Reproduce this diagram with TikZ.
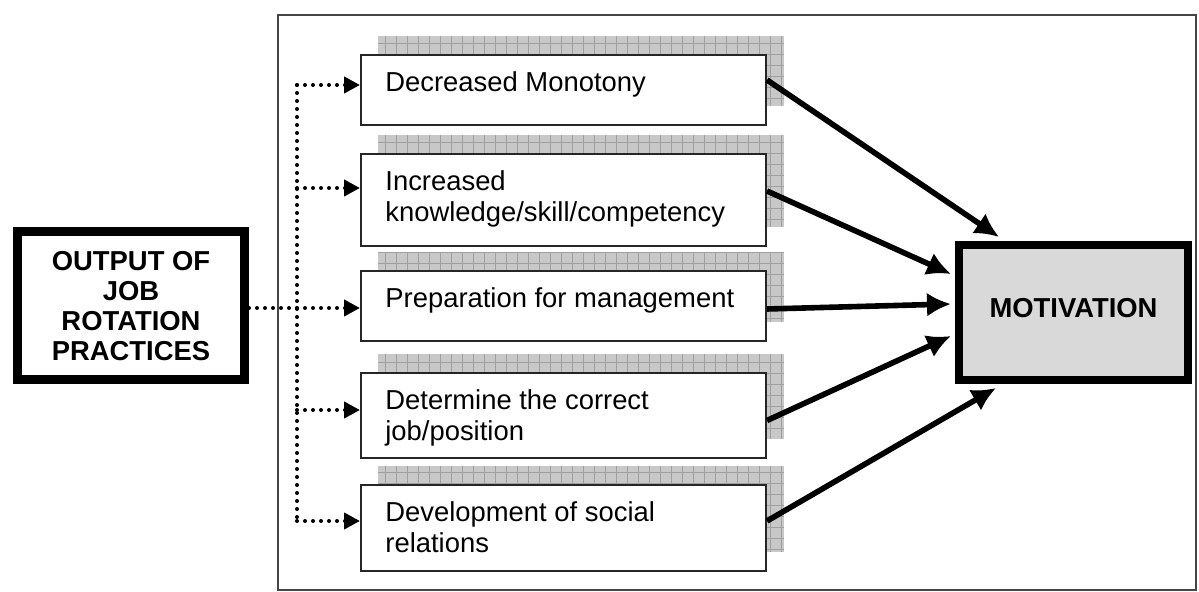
\documentclass[tikz,border=0pt]{standalone}
\usepackage{fontspec}
\setmainfont{Liberation Sans}
\usetikzlibrary{arrows.meta}

\definecolor{shadowgray}{RGB}{200,200,200}
\definecolor{gridgray}{RGB}{160,160,160}
\definecolor{motgray}{RGB}{217,217,217}
\definecolor{framegray}{RGB}{70,70,70}

\tikzset{
  item/.style={draw=black!85, line width=1pt, fill=white, minimum width=202.5pt, inner sep=0pt, anchor=north west},
  itemtext/.style={anchor=north west, inner sep=0pt, align=left, font=\fontsize{13.7pt}{15.5pt}\selectfont},
  bigbox/.style={draw, align=center, inner sep=0pt, font=\bfseries\fontsize{13.7pt}{15pt}\selectfont},
  dotline/.style={line width=2pt, line cap=round, dash pattern=on 0pt off 4pt},
  dotarrow/.style={dotline, -{Triangle[length=8pt,width=8pt]}},
  fatarrow/.style={line width=2.8pt, -{Latex[length=12pt,width=12pt]}},
}

\begin{document}
\begin{tikzpicture}[x=0.5pt, y=-0.5pt]
	\useasboundingbox (0,0) rectangle (1199,592);
	% outer frame
	\draw[framegray, line width=0.8pt] (278,15) rectangle (1196,590);

	% the five effects, each with a gridded shadow behind it
	\foreach \n/\top/\h in {1/54/70, 2/153/92, 3/270/70, 4/372/85, 5/484/86}{
		\fill[shadowgray] (378,\top-18) rectangle (784,\top+\h-18);
		\draw[gridgray, line width=0.5pt, step=5.5pt] (378,\top-18) grid (784,\top+\h-18);
		\node[item, minimum height=\h*0.5pt] (b\n) at (360,\top) {};
	}
	\node[itemtext] (t1txt) at ([shift={(25,17)}]b1.north west) {Decreased Monotony};
	\node[itemtext] (t2txt) at ([shift={(25,17)}]b2.north west) {Increased\\knowledge/skill/competency};
	\node[itemtext] (t3txt) at ([shift={(25,17)}]b3.north west) {Preparation for management};
	\node[itemtext] (t4txt) at ([shift={(25,17)}]b4.north west) {Determine the correct\\job/position};
	\node[itemtext] (t5txt) at ([shift={(25,17)}]b5.north west) {Development of social\\relations};

	\node[bigbox, line width=4.5pt, minimum width=113.5pt, minimum height=74pt] (output) at (131,306)
		{OUTPUT OF\\JOB\\ROTATION\\PRACTICES};
	\node[bigbox, fill=motgray, line width=4pt, minimum width=114.5pt, minimum height=67.5pt, text depth=5pt] (motivation) at (1073.5,312.5)
		{MOTIVATION};

	% dotted distribution lines
	\coordinate (d1) at (297,85);
	\coordinate (d2) at (297,188);
	\coordinate (d3) at (297,308);
	\coordinate (d4) at (297,410);
	\coordinate (d5) at (297,521);
	\draw[dotline] (d1) -- (d5);
	\draw[dotline] (output.east |- d3) -- (d3);
	\foreach \n in {1,...,5}
		\draw[dotarrow] (d\n) -- (d\n -| b\n.west);

	% effects feeding motivation
	\draw[fatarrow] ([shift={(0,-10)}]b1.east) -- ([shift={(44,-4)}]motivation.north west);
	\draw[fatarrow] ([shift={(0,-9)}]b2.east) -- ([shift={(-4,33)}]motivation.north west);
	\draw[fatarrow] ([shift={(0,3)}]b3.east) -- ([shift={(-4,63)}]motivation.north west);
	\draw[fatarrow] ([shift={(0,5)}]b4.east) -- ([shift={(-4,95)}]motivation.north west);
	\draw[fatarrow] ([shift={(0,-7)}]b5.east) -- ([shift={(41,4)}]motivation.south west);
\end{tikzpicture}
\end{document}
